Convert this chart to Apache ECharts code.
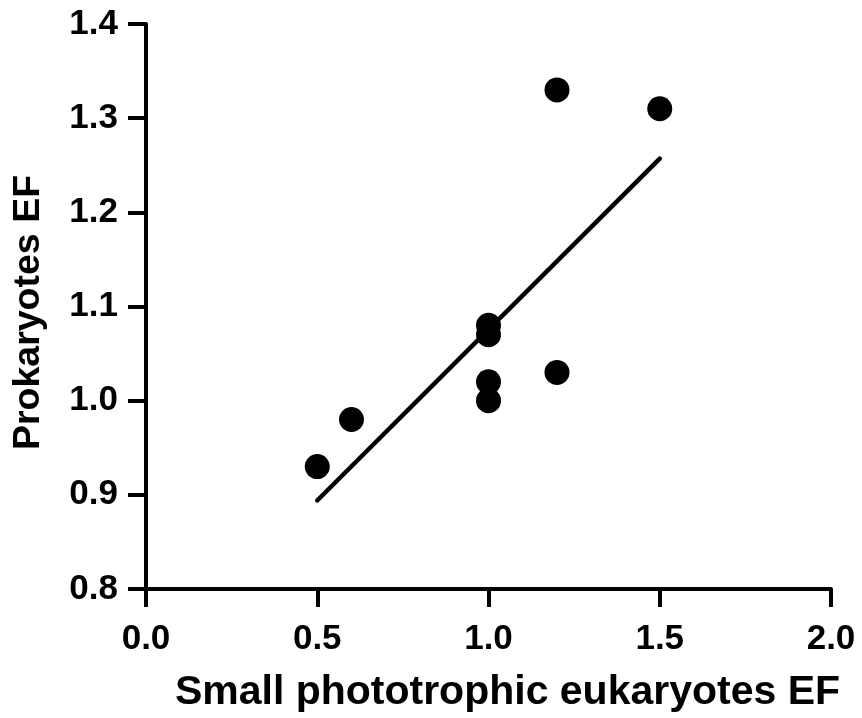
<!DOCTYPE html>
<html>
<head>
<meta charset="utf-8">
<script src="https://cdn.jsdelivr.net/npm/echarts@6/dist/echarts.min.js"></script>
<style>
html,body{margin:0;padding:0;background:#fff;}
#chart{width:862px;height:718px;}
</style>
</head>
<body>
<div id="chart"></div>
<script>
// Data
var pointX = [0.5, 0.6, 1.0, 1.0, 1.0, 1.0, 1.2, 1.2, 1.5];
var pointY = [0.93, 0.98, 1.08, 1.07, 1.02, 1.00, 1.33, 1.03, 1.31];
var fitX = [0.5, 1.5];
var fitY = [0.894, 1.257];
var xTicks = [0.0, 0.5, 1.0, 1.5, 2.0];
var yTicks = [0.8, 0.9, 1.0, 1.1, 1.2, 1.3, 1.4];
var xTitle = 'Small phototrophic eukaryotes EF';
var yTitle = 'Prokaryotes EF';

var FONT = '"Liberation Sans", Arial, Helvetica, sans-serif';

var chart = echarts.init(document.getElementById('chart'), null, {renderer: 'canvas'});

var scatterData = pointX.map(function (x, i) { return [x, pointY[i]]; });
var lineData = fitX.map(function (x, i) { return [x, fitY[i]]; });

var axisCommon = {
  axisLine: {show: true, onZero: false, lineStyle: {color: '#000', width: 4}},
  axisTick: {show: true, inside: false, length: 18, lineStyle: {color: '#000', width: 4}},
  splitLine: {show: false},
  nameLocation: 'middle'
};

chart.setOption({
  animation: false,
  backgroundColor: '#fff',
  grid: {left: 146, right: 31, top: 24, bottom: 128, containLabel: false},
  xAxis: Object.assign({}, axisCommon, {
    type: 'value',
    min: xTicks[0],
    max: xTicks[xTicks.length - 1],
    interval: 0.5,
    name: xTitle,
    nameGap: 83,
    nameTextStyle: {fontFamily: FONT, fontWeight: 'bold', fontSize: 41, color: '#000', padding: [0, 0, 0, 38]},
    axisLabel: {
      margin: 33, fontFamily: FONT, fontWeight: 'bold', fontSize: 35, color: '#000',
      formatter: function (v) { return v.toFixed(1); }
    }
  }),
  yAxis: Object.assign({}, axisCommon, {
    type: 'value',
    min: yTicks[0],
    max: yTicks[yTicks.length - 1],
    interval: 0.1,
    name: yTitle,
    nameGap: 98,
    nameTextStyle: {fontFamily: FONT, fontWeight: 'bold', fontSize: 37.5, color: '#000', padding: [0, 12, 0, 0]},
    axisLabel: {
      margin: 28, fontFamily: FONT, fontWeight: 'bold', fontSize: 35, color: '#000',
      formatter: function (v) { return v.toFixed(1); }
    }
  }),
  series: [
    {
      type: 'line',
      data: lineData,
      symbol: 'none',
      lineStyle: {color: '#000', width: 4.5, cap: 'round'},
      z: 2
    },
    {
      type: 'scatter',
      data: scatterData,
      symbol: 'circle',
      symbolSize: 25,
      itemStyle: {color: '#000', opacity: 1},
      z: 3
    }
  ]
});
</script>
</body>
</html>
